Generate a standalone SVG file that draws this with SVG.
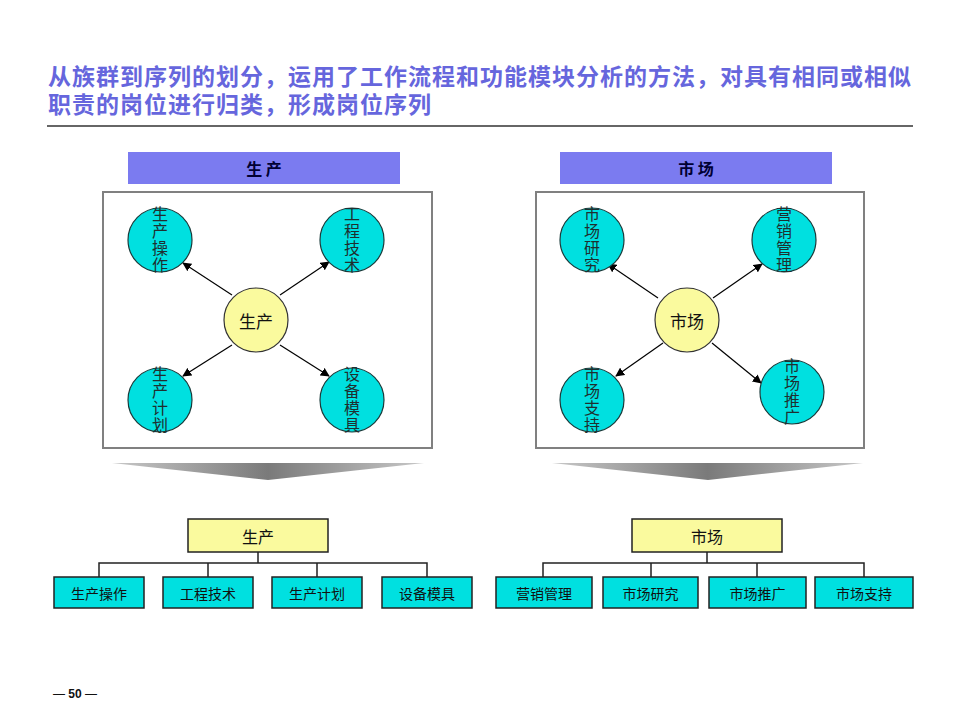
<svg xmlns="http://www.w3.org/2000/svg" width="960" height="720" viewBox="0 0 960 720">
<style>
text{font-family:"Noto Sans CJK SC","Liberation Sans",sans-serif;}
.title{font-size:23px;font-weight:bold;fill:#6666DD;letter-spacing:1px;}
.hdr{fill:#7B7BF0;}
.hdrt{font-size:16px;font-weight:bold;fill:#000033;text-anchor:middle;dominant-baseline:central;}
.panel{fill:#fff;stroke:#808080;stroke-width:2;}
.leaf{fill:#00E0E0;stroke:#1a3a3a;stroke-width:1.2;}
.hub{fill:#FAFA9E;stroke:#333;stroke-width:1.2;}
.vt{font-size:16px;fill:#1f2f2f;text-anchor:middle;writing-mode:tb;letter-spacing:1px;}
.ht{font-size:17px;fill:#111;text-anchor:middle;dominant-baseline:central;}
.arr{stroke:#000;stroke-width:1.2;fill:none;marker-end:url(#ah);}
.pbox{fill:#FAFA9E;stroke:#222;stroke-width:1.5;}
.cbox{fill:#00E0E0;stroke:#222;stroke-width:1.5;}
.pt{font-size:16px;fill:#111;text-anchor:middle;dominant-baseline:central;}
.ct{font-size:14px;fill:#111;text-anchor:middle;dominant-baseline:central;}
.tree{stroke:#222;stroke-width:1.5;fill:none;}
</style>
<defs>
<marker id="ah" viewBox="0 0 10 10" refX="9" refY="5" markerWidth="9" markerHeight="9" markerUnits="userSpaceOnUse" orient="auto">
<path d="M0,0 L10,5 L0,10 z" fill="#000"/>
</marker>
<linearGradient id="chev" x1="0" y1="0" x2="1" y2="0">
<stop offset="0" stop-color="#c8c8c8"/>
<stop offset="0.5" stop-color="#7a7a7a"/>
<stop offset="1" stop-color="#c8c8c8"/>
</linearGradient>
</defs>
<rect width="960" height="720" fill="#fff"/>

<g id="title">
<text class="title" x="48" y="85">从族群到序列的划分，运用了工作流程和功能模块分析的方法，对具有相同或相似</text>
<text class="title" x="48" y="113">职责的岗位进行归类，形成岗位序列</text>
<line x1="47" y1="126" x2="913" y2="126" stroke="#333" stroke-width="1.5"/>
</g>

<g id="hdr-left">
<rect class="hdr" x="128" y="152" width="272" height="32"/>
<text class="hdrt" x="264" y="168">生 产</text>
</g>
<rect id="panel-left" class="panel" x="103" y="192" width="329" height="256"/>

<g id="hdr-right">
<rect class="hdr" x="560" y="152" width="272" height="32"/>
<text class="hdrt" x="696" y="168">市 场</text>
</g>
<rect id="panel-right" class="panel" x="536" y="192" width="328" height="256"/>

<g id="connectors">
<line class="arr" x1="232" y1="295" x2="183" y2="263"/>
<line class="arr" x1="280" y1="295" x2="329" y2="262"/>
<line class="arr" x1="232" y1="345" x2="183" y2="376"/>
<line class="arr" x1="280" y1="345" x2="329" y2="376"/>
<line class="arr" x1="658" y1="298" x2="608" y2="264"/>
<line class="arr" x1="713" y1="298" x2="762" y2="264"/>
<line class="arr" x1="663" y1="343" x2="616" y2="376"/>
<line class="arr" x1="712" y1="343" x2="761" y2="383"/>
<path class="tree" d="M258,552 V563 M99,577 V563 H427 V577 M208,563 V577 M317,563 V577"/>
<path class="tree" d="M707,552 V563 M543,577 V563 H864 V577 M651,563 V577 M757,563 V577"/>
</g>

<g id="c-scz">
<circle class="leaf" cx="160" cy="240" r="32"/>
<text class="vt" x="160" y="240">生产操作</text>
</g>
<g id="c-gcjs">
<circle class="leaf" cx="352" cy="240" r="32"/>
<text class="vt" x="352" y="240">工程技术</text>
</g>
<g id="c-scjh">
<circle class="leaf" cx="160" cy="400" r="32"/>
<text class="vt" x="160" y="400">生产计划</text>
</g>
<g id="c-sbmj">
<circle class="leaf" cx="352" cy="400" r="32"/>
<text class="vt" x="352" y="400">设备模具</text>
</g>
<g id="c-sc">
<circle class="hub" cx="256" cy="320" r="32"/>
<text class="ht" x="256" y="320">生产</text>
</g>

<g id="c-scyj">
<circle class="leaf" cx="592" cy="240" r="32"/>
<text class="vt" x="592" y="240">市场研究</text>
</g>
<g id="c-yxgl">
<circle class="leaf" cx="784" cy="240" r="32"/>
<text class="vt" x="784" y="240">营销管理</text>
</g>
<g id="c-sczc">
<circle class="leaf" cx="592" cy="400" r="32"/>
<text class="vt" x="592" y="400">市场支持</text>
</g>
<g id="c-sctg">
<circle class="leaf" cx="792" cy="392" r="32"/>
<text class="vt" x="792" y="392">市场推广</text>
</g>
<g id="c-shc">
<circle class="hub" cx="687" cy="320" r="32"/>
<text class="ht" x="687" y="320">市场</text>
</g>

<polygon id="chev-left" points="112,463 424,463 268,480" fill="url(#chev)"/>
<polygon id="chev-right" points="552,463 863,463 708,480" fill="url(#chev)"/>

<g id="t-sc">
<rect class="pbox" x="188" y="519" width="140" height="33"/>
<text class="pt" x="258" y="535.5">生产</text>
</g>
<g id="t-scz"><rect class="cbox" x="54" y="577" width="90" height="31"/><text class="ct" x="99" y="592.5">生产操作</text></g>
<g id="t-gcjs"><rect class="cbox" x="163" y="577" width="90" height="31"/><text class="ct" x="208" y="592.5">工程技术</text></g>
<g id="t-scjh"><rect class="cbox" x="272" y="577" width="90" height="31"/><text class="ct" x="317" y="592.5">生产计划</text></g>
<g id="t-sbmj"><rect class="cbox" x="382" y="577" width="90" height="31"/><text class="ct" x="427" y="592.5">设备模具</text></g>

<g id="t-shc">
<rect class="pbox" x="632" y="519" width="150" height="33"/>
<text class="pt" x="707" y="535.5">市场</text>
</g>
<g id="t-yxgl"><rect class="cbox" x="496" y="577" width="96" height="31"/><text class="ct" x="544" y="592.5">营销管理</text></g>
<g id="t-scyj"><rect class="cbox" x="603" y="577" width="95" height="31"/><text class="ct" x="650.5" y="592.5">市场研究</text></g>
<g id="t-sctg"><rect class="cbox" x="709" y="577" width="97" height="31"/><text class="ct" x="757.5" y="592.5">市场推广</text></g>
<g id="t-sczc"><rect class="cbox" x="815" y="577" width="98" height="31"/><text class="ct" x="864" y="592.5">市场支持</text></g>

<text id="page" x="75" y="694" font-size="12" fill="#111" text-anchor="middle" dominant-baseline="central" style="font-family:'Liberation Sans',Arial,sans-serif">— <tspan font-weight="bold">50</tspan> —</text>
</svg>
